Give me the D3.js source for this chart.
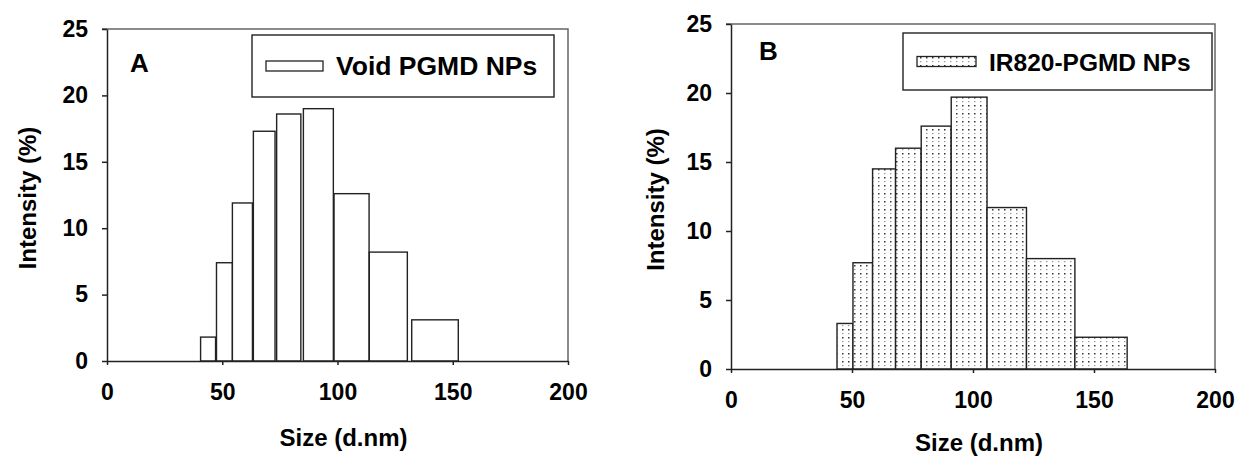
<!DOCTYPE html>
<html lang="en">
<head>
<meta charset="UTF-8">
<title>Size distribution</title>
<script src="https://d3js.org/d3.v7.min.js"></script>
<style>
    body { margin: 0; background: #fff; }
    svg text { font-family: "Liberation Sans", Arial, sans-serif; font-weight: bold; fill: #000; }
</style>
</head>
<body>
<script>
// DLS size bins (d.nm) and intensity (%)
const binLowA = [40.6, 47.5, 54.4, 63.5, 73.6, 85.2, 98.5, 113.8, 132.2];
const binHighA = [47.1, 54.4, 63.1, 72.9, 84.1, 98.2, 113.7, 130.3, 152.4];
const intensityA = [1.8, 7.4, 11.9, 17.3, 18.6, 19.0, 12.6, 8.2, 3.1];

const binLowB = [43.8, 50.4, 58.5, 68.0, 78.6, 91.0, 105.8, 122.1, 142.1];
const binHighB = [50.4, 58.5, 68.0, 78.6, 91.0, 105.8, 122.1, 142.1, 163.7];
const intensityB = [3.3, 7.7, 14.5, 16.0, 17.6, 19.7, 11.7, 8.0, 2.3];

const xTicks = [0, 50, 100, 150, 200];
const yTicks = [0, 5, 10, 15, 20, 25];

const svg = d3.select("body").append("svg")
    .attr("width", 1237)
    .attr("height", 458);

// dotted fill for panel B
const pat = svg.append("defs").append("pattern")
    .attr("id", "dots")
    .attr("patternUnits", "userSpaceOnUse")
    .attr("width", 6).attr("height", 8);
pat.append("rect").attr("width", 6).attr("height", 8).attr("fill", "#fff");
pat.append("rect").attr("x", 2).attr("y", 1).attr("width", 1.5).attr("height", 1.5).attr("fill", "#333");
pat.append("rect").attr("x", 2).attr("y", 5).attr("width", 1.4).attr("height", 1.2).attr("fill", "#999");

function drawPanel(p) {
    const x = d3.scaleLinear().domain([0, 200]).range([p.left, p.right]);
    const y = d3.scaleLinear().domain([0, 25]).range([p.bottom, p.top]);
    const g = svg.append("g");

    const bins = p.lows.map((lo, i) => ({ lo, hi: p.highs[i], v: p.values[i] }));

    g.selectAll(".bar")
        .data(bins)
        .enter().append("rect")
        .attr("class", "bar")
        .attr("x", d => x(d.lo))
        .attr("y", d => y(d.v))
        .attr("width", d => x(d.hi) - x(d.lo))
        .attr("height", d => y(0) - y(d.v))
        .attr("fill", p.fill)
        .attr("stroke", "#222")
        .attr("stroke-width", 1.4);

    // top and right frame
    g.append("path")
        .attr("d", `M${p.left - 5},${p.top}H${p.right}V${p.bottom}`)
        .attr("fill", "none")
        .attr("stroke", "#666")
        .attr("stroke-width", 1.5);

    const xAxis = g.append("g")
        .attr("transform", `translate(0,${p.bottom})`)
        .call(d3.axisBottom(x).tickValues(xTicks).tickSize(4).tickSizeOuter(0).tickPadding(19));
    const yAxis = g.append("g")
        .attr("transform", `translate(${p.left},0)`)
        .call(d3.axisLeft(y).tickValues(yTicks).tickSize(5).tickSizeOuter(0).tickPadding(14));

    [xAxis, yAxis].forEach(a => {
        a.selectAll("text").style("font-size", "23px").attr("font-family", null);
        a.select(".domain").attr("stroke", "#222").attr("stroke-width", 1.5);
        a.selectAll(".tick line").attr("stroke", "#222").attr("stroke-width", 1.5);
    });

    g.append("text")
        .attr("x", p.letterX).attr("y", p.letterY)
        .style("font-size", "26px")
        .text(p.letter);

    g.append("text")
        .attr("x", (p.left + p.right) / 2 + 6)
        .attr("y", p.xTitleY)
        .attr("text-anchor", "middle")
        .style("font-size", "24px")
        .text("Size (d.nm)");

    g.append("text")
        .attr("transform", `translate(${p.yTitleX},${(p.top + p.bottom) / 2 + 3}) rotate(-90)`)
        .attr("text-anchor", "middle")
        .style("font-size", "24px")
        .text("Intensity (%)");

    // legend
    const L = p.legend;
    g.append("rect")
        .attr("x", L.x).attr("y", L.y).attr("width", L.w).attr("height", L.h)
        .attr("fill", "#fff").attr("stroke", "#222").attr("stroke-width", 1.4);
    g.append("rect")
        .attr("x", L.x + 14).attr("y", L.y + L.h / 2 - 5).attr("width", L.sw).attr("height", 10)
        .attr("fill", p.fill).attr("stroke", "#222").attr("stroke-width", 1.3);
    g.append("text")
        .attr("x", L.x + 14 + L.sw + 13)
        .attr("y", L.y + L.h / 2 + 9)
        .style("font-size", L.fs + "px")
        .text(p.label);
}

drawPanel({
    left: 107, right: 568, top: 29, bottom: 361,
    lows: binLowA, highs: binHighA, values: intensityA,
    fill: "#fff", letter: "A", letterX: 130, letterY: 72,
    yTitleX: 36, xTitleY: 446, label: "Void PGMD NPs",
    legend: { x: 252, y: 35, w: 302, h: 62, sw: 57, fs: 26.5 }
});

drawPanel({
    left: 731, right: 1215, top: 24, bottom: 369,
    lows: binLowB, highs: binHighB, values: intensityB,
    fill: "url(#dots)", letter: "B", letterX: 759, letterY: 60,
    yTitleX: 664, xTitleY: 451, label: "IR820-PGMD NPs",
    legend: { x: 903, y: 33, w: 309, h: 57, sw: 59, fs: 24.5 }
});
</script>
</body>
</html>
